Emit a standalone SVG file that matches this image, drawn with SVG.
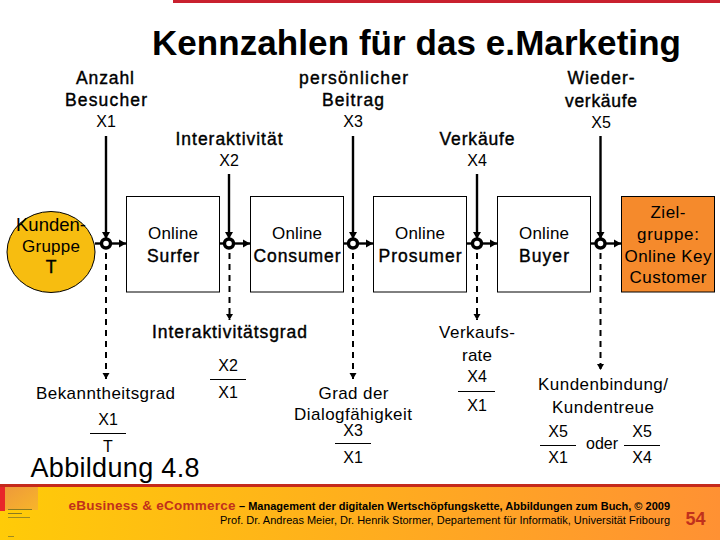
<svg xmlns="http://www.w3.org/2000/svg" width="720" height="540" viewBox="0 0 720 540">
<defs>
<linearGradient id="foot" x1="0" y1="0" x2="1" y2="0"><stop offset="0" stop-color="#ffcb08"/><stop offset="1" stop-color="#ff9133"/></linearGradient>
<linearGradient id="cover" x1="0" y1="0" x2="1" y2="1"><stop offset="0" stop-color="#ee9a3a"/><stop offset="1" stop-color="#f8b52a"/></linearGradient>
<marker id="ah" markerUnits="userSpaceOnUse" markerWidth="9" markerHeight="10" refX="8" refY="4.500" orient="auto"><path d="M1 0.500L8 4.500L1 8.500z" fill="#000"/></marker>
<marker id="ahd" markerUnits="userSpaceOnUse" markerWidth="8" markerHeight="8" refX="6" refY="3.500" orient="auto"><path d="M0 0L6 3.500L0 7z" fill="#000"/></marker>
</defs>
<style>
text{font-family:"Liberation Sans",Arial,sans-serif;fill:#000;text-anchor:middle}
.t{font-size:17px}
.b{font-size:17.500px;stroke:#000;stroke-width:.4}
.x{font-size:16px}
.box{fill:#fff;stroke:#000;stroke-width:1}
.arr{stroke:#000;stroke-width:2.400;fill:none;marker-end:url(#ah)}
.das{stroke:#000;stroke-width:2;fill:none;stroke-dasharray:6 5;marker-end:url(#ahd)}
.dot{fill:#fff;stroke:#000;stroke-width:3.400}
.bar{stroke:#000;stroke-width:1}
</style>
<rect x="173" y="0" width="547" height="3" fill="#c9202f"/>
<text x="416.500" y="55" font-size="35" font-weight="bold" textLength="529">Kennzahlen für das e.Marketing</text>
<g id="labels-top">
<text class="b" x="105" y="84" textLength="58">Anzahl</text><text class="b" x="106" y="106" textLength="82">Besucher</text><text class="x" x="106" y="127">X1</text>
<text class="b" x="229" y="145" textLength="107">Interaktivität</text><text class="x" x="229" y="166">X2</text>
<text class="b" x="353.500" y="84" textLength="109">persönlicher</text><text class="b" x="353" y="106" textLength="62">Beitrag</text><text class="x" x="353" y="127">X3</text>
<text class="b" x="477" y="145" textLength="75">Verkäufe</text><text class="x" x="477" y="166">X4</text>
<text class="b" x="601" y="84" textLength="67">Wieder-</text><text class="b" x="601" y="107" textLength="72">verkäufe</text><text class="x" x="601" y="128">X5</text>
</g>
<g id="connectors">
<path class="arr" d="M106 136V239"/><path class="arr" d="M229 174V239"/><path class="arr" d="M353 136V239"/><path class="arr" d="M477 174V239"/><path class="arr" d="M600.500 136V239"/>
<path class="arr" d="M95 243.500H126"/><path class="arr" d="M220 243.500H250"/><path class="arr" d="M343 243.500H373"/><path class="arr" d="M467 243.500H497"/><path class="arr" d="M590 243.500H621"/>
<path class="das" d="M106 253V379"/><path class="das" d="M229.500 253V320"/><path class="das" d="M353 253V379"/><path class="das" d="M477 253V320"/><path class="das" d="M600.500 253V370"/>
</g>
<g id="kundengruppe"><ellipse cx="51" cy="252" rx="44" ry="40.500" fill="#f7bd10" stroke="#000"/>
<text x="51" y="231" font-size="18.500">Kunden-</text><text class="t" x="51" y="252" textLength="58">Gruppe</text><text class="b" x="51" y="273">T</text></g>
<g id="surfer"><rect class="box" x="126.500" y="196.500" width="93" height="95.500"/><text class="t" x="173" y="239" textLength="50">Online</text><text class="b" x="173" y="261.500" textLength="52">Surfer</text></g>
<g id="consumer"><rect class="box" x="250.500" y="196.500" width="93" height="95.500"/><text class="t" x="297" y="239" textLength="50">Online</text><text class="b" x="297" y="261.500" textLength="87">Consumer</text></g>
<g id="prosumer"><rect class="box" x="373.500" y="196.500" width="93" height="95.500"/><text class="t" x="420" y="239" textLength="50">Online</text><text class="b" x="420" y="261.500" textLength="83">Prosumer</text></g>
<g id="buyer"><rect class="box" x="497.500" y="196.500" width="93" height="95.500"/><text class="t" x="544" y="239" textLength="50">Online</text><text class="b" x="544" y="261.500" textLength="50">Buyer</text></g>
<g id="zielgruppe"><rect x="621.500" y="196.500" width="93" height="95.500" fill="#f58a2c" stroke="#000"/>
<text class="t" x="668" y="218" textLength="35">Ziel-</text><text class="t" x="668" y="240" textLength="62">gruppe:</text><text class="t" x="668" y="262" textLength="87">Online Key</text><text class="t" x="668" y="283" textLength="77">Customer</text></g>
<g id="dots"><circle class="dot" cx="106" cy="243.500" r="4.500"/><circle class="dot" cx="229" cy="243.500" r="4.500"/><circle class="dot" cx="353" cy="243.500" r="4.500"/><circle class="dot" cx="477" cy="243.500" r="4.500"/><circle class="dot" cx="600.500" cy="243.500" r="4.500"/></g>
<g id="metrics">
<text class="b" x="229.500" y="338" textLength="155">Interaktivitätsgrad</text>
<text class="x" x="228" y="371">X2</text><path class="bar" d="M210 379.500H246"/><text class="x" x="228" y="398">X1</text>
<text class="t" x="105.500" y="399" textLength="139">Bekanntheitsgrad</text>
<text class="x" x="108" y="425">X1</text><path class="bar" d="M90 433.500H126"/><text class="x" x="108" y="452">T</text>
<text x="115" y="477" font-size="27" textLength="169">Abbildung 4.8</text>
<text class="t" x="353.500" y="399" textLength="70">Grad der</text><text class="t" x="353" y="420" textLength="118">Dialogfähigkeit</text>
<text class="x" x="353" y="436">X3</text><path class="bar" d="M335 443.500H371"/><text class="x" x="353" y="463">X1</text>
<text class="t" x="477" y="338" textLength="76">Verkaufs-</text><text class="t" x="477" y="361" textLength="30">rate</text>
<text class="x" x="477" y="382">X4</text><path class="bar" d="M458 391.500H495"/><text class="x" x="477" y="411">X1</text>
<text class="t" x="603" y="390" textLength="130">Kundenbindung/</text><text class="t" x="603" y="412.500" textLength="102">Kundentreue</text>
<text class="x" x="558" y="436.500">X5</text><path class="bar" d="M540 445.500H576"/><text class="x" x="558" y="463">X1</text>
<text class="x" x="602" y="449" textLength="32">oder</text>
<text class="x" x="642" y="436.500">X5</text><path class="bar" d="M624 445.500H660"/><text class="x" x="642" y="463">X4</text>
</g>
<g id="footer">
<rect x="0" y="484" width="720" height="56" fill="url(#foot)"/>
<rect x="0" y="484" width="720" height="3" fill="#c42a1c"/>
<rect x="5" y="487" width="33" height="23" fill="url(#cover)"/>
<rect x="0" y="487" width="5" height="24" fill="#e8262a"/>
<rect x="8" y="509" width="24" height="1" fill="#8a7a20"/><rect x="8" y="513" width="14" height="1" fill="#8a7a20"/><rect x="8" y="517" width="22" height="1" fill="#a08a20"/><rect x="8" y="536" width="6" height="1" fill="#a08a20"/>
<text x="152" y="510" font-size="13.500" font-weight="bold" textLength="167" style="fill:#c1301c">eBusiness &amp; eCommerce</text>
<text x="454.500" y="509.500" font-size="11" font-weight="bold" textLength="431">– Management der digitalen Wertschöpfungskette, Abbildungen zum Buch, © 2009</text>
<text x="445" y="524" font-size="11" textLength="450">Prof. Dr. Andreas Meier, Dr. Henrik Stormer, Departement für Informatik, Universität Fribourg</text>
<text x="695.500" y="524.500" font-size="18" font-weight="bold" style="fill:#c1301c">54</text>
</g>
</svg>
